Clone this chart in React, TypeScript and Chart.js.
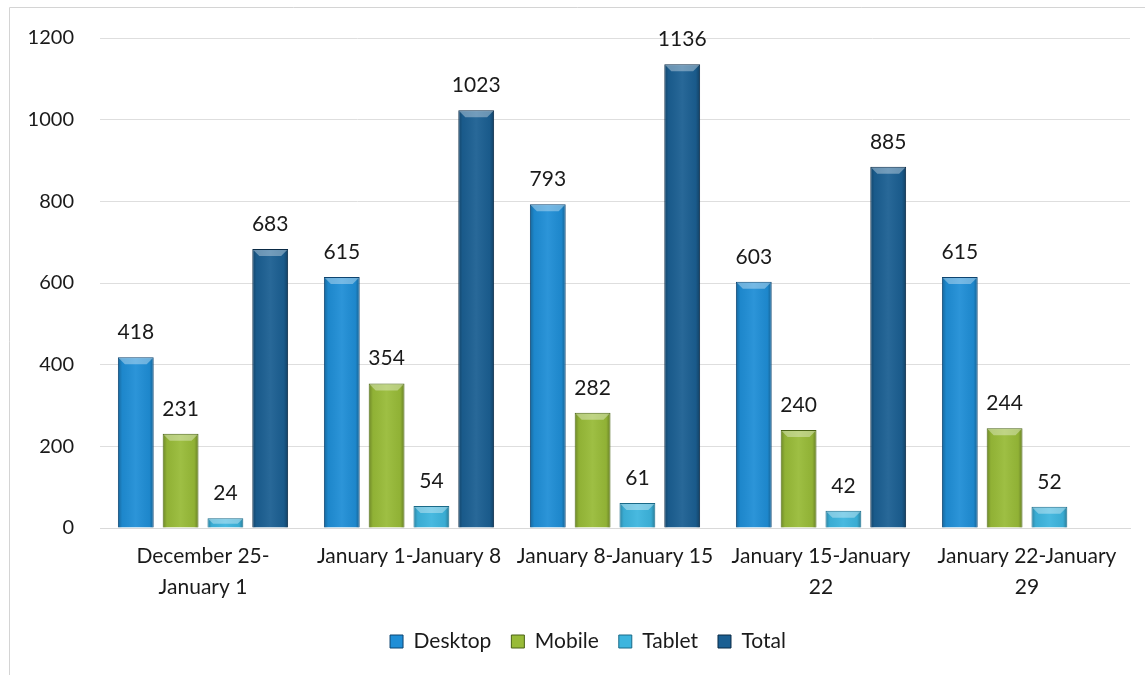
import React, { useEffect, useRef } from "react";
import { Chart, registerables } from "chart.js";

Chart.register(...registerables);

const categories: (string | string[])[] = [
  ["December 25-", "January 1"],
  "January 1-January 8",
  "January 8-January 15",
  ["January 15-January", "22"],
  ["January 22-January", "29"],
];
const desktop = [418, 615, 793, 603, 615];
const mobile = [231, 354, 282, 240, 244];
const tablet = [24, 54, 61, 42, 52];
const total: (number | null)[] = [683, 1023, 1136, 885, null];
const yTicks = [0, 200, 400, 600, 800, 1000, 1200];

const FONT = "Lato, 'Open Sans', sans-serif";
const FS = 21;

const decorPlugin = {
  id: "decor",
  afterLayout(chart: any) {
    if (chart.legend) {
      chart.legend.left += 23;
      chart.legend.right += 23;
    }
  },
  beforeDraw(chart: any) {
    const ctx = chart.ctx;
    ctx.save();
    ctx.strokeStyle = "#d4d4d4";
    ctx.lineWidth = 1;
    ctx.beginPath();
    ctx.moveTo(9.5, 675);
    ctx.lineTo(9.5, 7.5);
    ctx.lineTo(1145, 7.5);
    ctx.stroke();
    ctx.restore();
  },
  afterDatasetsDraw(chart: any) {
    const ctx = chart.ctx;
    chart.data.datasets.forEach((ds: any, di: number) => {
      const meta = chart.getDatasetMeta(di);
      meta.data.forEach((bar: any, i: number) => {
        const v = ds.data[i];
        if (v === null || v === undefined) return;
        const { x, y, base, width } = bar.getProps(["x", "y", "base", "width"], true);
        const l = x - width / 2;
        const r = x + width / 2;
        ctx.save();
        const g = ctx.createLinearGradient(l, 0, r, 0);
        g.addColorStop(0, "rgba(0,0,0,0.28)");
        g.addColorStop(0.12, "rgba(0,0,0,0.05)");
        g.addColorStop(0.5, "rgba(255,255,255,0.06)");
        g.addColorStop(0.88, "rgba(0,0,0,0.05)");
        g.addColorStop(1, "rgba(0,0,0,0.32)");
        ctx.fillStyle = g;
        ctx.fillRect(l + 1, y + 1, width - 2, base - y - 1);
        const bev = Math.min(6, (base - y) / 2);
        ctx.fillStyle = "rgba(255,255,255,0.35)";
        ctx.beginPath();
        ctx.moveTo(l + 1, y + 1);
        ctx.lineTo(r - 1, y + 1);
        ctx.lineTo(r - 1 - bev, y + 1 + bev);
        ctx.lineTo(l + 1 + bev, y + 1 + bev);
        ctx.closePath();
        ctx.fill();
        ctx.restore();

        ctx.save();
        ctx.fillStyle = "#1a1a1a";
        ctx.font = `${FS}px ${FONT}`;
        ctx.textAlign = "center";
        ctx.textBaseline = "alphabetic";
        ctx.fillText(String(v), x, y - 18);
        ctx.restore();
      });
    });
  },
};

export default function App() {
  const ref = useRef<HTMLCanvasElement | null>(null);
  useEffect(() => {
    document.body.style.margin = "0";
    const canvas = ref.current!;
    const chart = new Chart(canvas, {
      type: "bar",
      data: {
        labels: categories as any,
        datasets: [
          { label: "Desktop", data: desktop, backgroundColor: "#1f8ed6", borderColor: "#0d4470", borderWidth: 1 },
          { label: "Mobile", data: mobile, backgroundColor: "#98bb38", borderColor: "#4a6316", borderWidth: 1 },
          { label: "Tablet", data: tablet, backgroundColor: "#3db5de", borderColor: "#1a6a88", borderWidth: 1 },
          { label: "Total", data: total, backgroundColor: "#1b5f92", borderColor: "#0a2a45", borderWidth: 1 },
        ],
      },
      options: {
        animation: false,
        responsive: false,
        layout: { padding: { top: 37, right: 15, bottom: 13, left: 0 } },
        datasets: { bar: { categoryPercentage: 0.87, barPercentage: 0.8 } },
        scales: {
          x: {
            grid: { display: false },
            border: { display: true, color: "#d9d9d9" },
            ticks: {
              color: "#1a1a1a",
              font: { family: FONT, size: FS, lineHeight: 1.48 },
              padding: 5,
              maxRotation: 0,
              autoSkip: false,
            },
            afterFit(scale: any) {
              scale.height = 83;
            },
          },
          y: {
            min: 0,
            max: 1200,
            afterBuildTicks(scale: any) {
              scale.ticks = yTicks.map((v) => ({ value: v }));
            },
            grid: { color: "#dedede", drawTicks: false },
            border: { display: false },
            ticks: {
              color: "#1a1a1a",
              font: { family: FONT, size: 20 },
              padding: 26,
              callback: (v: any) => String(v),
            },
            afterFit(scale: any) {
              scale.width = 100;
            },
          },
        },
        plugins: {
          legend: {
            position: "bottom",
            labels: {
              color: "#1a1a1a",
              font: { family: FONT, size: FS },
              boxWidth: 13,
              boxHeight: 13,
              padding: 20,
            },
          },
          tooltip: { enabled: false },
        },
      },
      plugins: [decorPlugin],
    });
    return () => chart.destroy();
  }, []);
  return <canvas ref={ref} width={1145} height={675} style={{ display: "block" }} />;
}
